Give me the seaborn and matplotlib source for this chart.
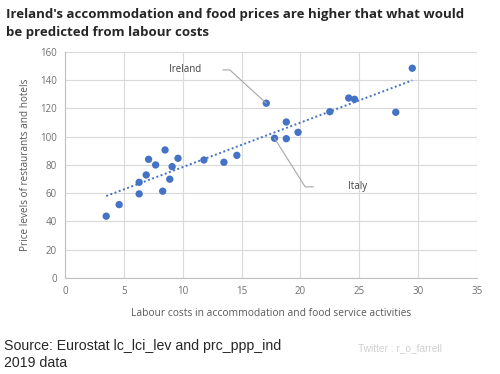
import seaborn as sns
import matplotlib.pyplot as plt
import pandas as pd

# Labour cost (x) and price level (y)
labour_costs = [3.5, 4.6, 6.3, 6.3, 6.9, 7.1, 7.7, 8.5, 8.3, 8.9, 9.1, 9.6,
                11.8, 13.5, 14.6, 17.1, 17.8, 18.8, 18.8, 19.8, 22.5, 24.1,
                24.6, 28.1, 29.5]
price_levels = [43.7, 51.9, 67.7, 59.5, 72.9, 84.0, 80.0, 90.6, 61.4, 69.9,
                78.8, 84.7, 83.5, 81.9, 86.8, 123.7, 98.9, 110.4, 98.6, 103.1,
                117.7, 127.4, 126.5, 117.3, 148.5]
x_ticks = [0, 5, 10, 15, 20, 25, 30, 35]
y_ticks = [0, 20, 40, 60, 80, 100, 120, 140, 160]

df = pd.DataFrame({"labour": labour_costs, "price": price_levels})

sns.set_theme(style="whitegrid")
plt.rcParams["font.family"] = ["Open Sans", "DejaVu Sans"]

blue = "#4472C4"
grey = "#6f6f6f"

fig = plt.figure(figsize=(5, 3.74), dpi=100)
ax = fig.add_axes([0.13, 0.257, 0.824, 0.604])

sns.regplot(data=df, x="labour", y="price", ci=None, ax=ax, truncate=True,
            scatter_kws={"s": 28, "color": blue, "edgecolor": "none", "alpha": 1},
            line_kws={"color": blue, "ls": (0, (1, 1.3)), "lw": 1.4})

ax.set_xlim(0, 35)
ax.set_ylim(0, 160)
ax.set_xticks(x_ticks)
ax.set_yticks(y_ticks)
ax.tick_params(axis="both", labelsize=7, labelcolor=grey, length=0, pad=6)
ax.grid(color="#d9d9d9", lw=0.8)
for side in ["top", "right"]:
    ax.spines[side].set_visible(False)
for side in ["left", "bottom"]:
    ax.spines[side].set_color("#bfbfbf")
    ax.spines[side].set_linewidth(0.8)
ax.set_facecolor("white")

ax.set_xlabel("Labour costs in accommodation and food service activities",
              fontsize=7.4, color="#595959", labelpad=8)
ax.set_ylabel("Price levels of restaurants and hotels", fontsize=7.2,
              color="#595959", labelpad=6)

# Callouts for Ireland and Italy
ire = df.iloc[15]
ita = df.iloc[16]
ax.plot([13.4, 14.0, ire.labour], [147.3, 147.3, ire.price], color="#a6a6a6", lw=0.8)
ax.text(8.8, 147.3, "Ireland", fontsize=7, color="#404040", va="center")
ax.plot([ita.labour, 20.4, 21.1], [ita.price, 64.5, 64.5], color="#a6a6a6", lw=0.8)
ax.text(24.0, 64.5, "Italy", fontsize=7, color="#404040", va="center")

fig.text(0.012, 0.978, "Ireland's accommodation and food prices are higher that what would\n"
         "be predicted from labour costs", fontsize=9.5, fontweight="bold",
         va="top", ha="left", linespacing=1.5)
fig.text(0.008, 0.012, "Source: Eurostat lc_lci_lev and prc_ppp_ind\n2019 data",
         fontsize=10.2, family="Liberation Sans", va="bottom", ha="left", linespacing=1.25)
fig.text(0.716, 0.055, "Twitter : r_o_farrell", fontsize=7.3, color="#d0d0d0",
         family="Liberation Sans", va="bottom", ha="left")

fig.savefig("out.png", dpi=100, facecolor="white")
